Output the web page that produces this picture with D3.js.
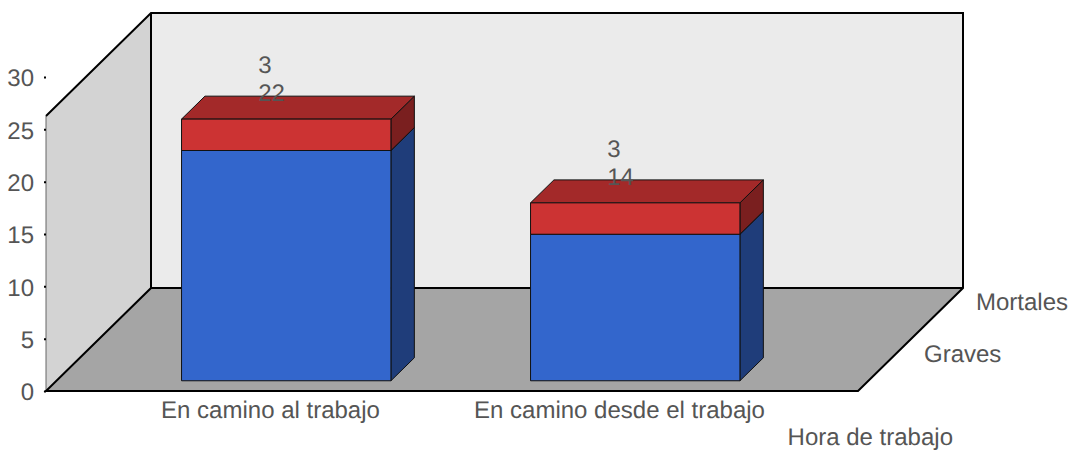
<!DOCTYPE html>
<html>
<head>
<meta charset="utf-8">
<script src="https://cdn.jsdelivr.net/npm/d3@7"></script>
<style>
  html, body { margin: 0; padding: 0; background: #fff; }
  text { font-family: "Liberation Sans", Arial, sans-serif; font-size: 24px; fill: #555; text-rendering: geometricPrecision; }
</style>
</head>
<body>
<div id="chart"></div>
<script>
(function() {

  var categories = ['En camino al trabajo', 'En camino desde el trabajo'];
  var graves = [22, 14];
  var mortales = [3, 3];
  var seriesNames = ['Graves', 'Mortales'];
  var yTicks = [0, 5, 10, 15, 20, 25, 30];
  var xTitle = 'Hora de trabajo';

  var width = 1070, height = 450;

  // room corners
  var left = 46, right = 858, floorY = 391, roomTop = 116;
  var depthX = 105, depthY = 103;

  var svg = d3.select('#chart').append('svg')
    .attr('width', width)
    .attr('height', height)
    .style('display', 'block');

  var y = d3.scaleLinear().domain([0, 30]).range([floorY, 77]);

  var x = d3.scaleBand()
    .domain(categories)
    .range([100.5, 798.5])
    .paddingInner(0.4)
    .paddingOuter(0.2);

  // depth 0 = front edge of the floor, 1 = back wall
  var dx = d3.scaleLinear().domain([0, 1]).range([0, depthX]);
  var dy = d3.scaleLinear().domain([0, 1]).range([0, -depthY]);

  var rows = categories.map(function(c, i) {
    return { category: c, Graves: graves[i], Mortales: mortales[i] };
  });
  var stacked = d3.stack().keys(seriesNames)(rows);

  var colors = {
    Graves: { front: '#3366cc', side: '#1f3d7a', top: '#29519f' },
    Mortales: { front: '#cc3333', side: '#7a1f1f', top: '#a32929' }
  };

  var line = d3.line();

  drawRoom();
  drawYAxis();
  drawBars();
  drawLabels();

  function drawRoom() {
    var room = svg.append('g');
    var backL = left + dx(1), backR = right + dx(1);
    var backBottom = floorY + dy(1), backTop = roomTop + dy(1);

    room.append('path')
      .attr('d', line([[backL, backTop], [backR, backTop], [backR, backBottom], [backL, backBottom]]) + 'Z')
      .attr('fill', '#ebebeb');
    room.append('path')
      .attr('d', line([[left, roomTop], [backL, backTop], [backL, backBottom], [left, floorY]]) + 'Z')
      .attr('fill', '#d3d3d3');
    room.append('path')
      .attr('d', line([[left, floorY], [backL, backBottom], [backR, backBottom], [right, floorY]]) + 'Z')
      .attr('fill', '#a5a5a5');

    room.append('line')
      .attr('x1', left).attr('y1', roomTop)
      .attr('x2', left).attr('y2', floorY)
      .attr('stroke', '#666').attr('stroke-width', 1);

    // black outline of the walls and floor
    var edges = [
      [[left, roomTop], [backL, backTop], [backR, backTop], [backR, backBottom], [right, floorY], [left, floorY], [backL, backBottom], [backL, backTop]],
      [[backL, backBottom], [backR, backBottom]]
    ];
    room.selectAll('path.edge')
      .data(edges)
      .enter().append('path')
      .attr('class', 'edge')
      .attr('d', function(d) { return line(d); })
      .attr('fill', 'none')
      .attr('stroke', '#000')
      .attr('stroke-width', 2);
  }

  function drawYAxis() {
    var axis = d3.axisLeft(y)
      .tickValues(yTicks)
      .tickSize(2)
      .tickPadding(10);
    var g = svg.append('g')
      .attr('transform', 'translate(' + left + ',0)')
      .call(axis);
    g.select('.domain').remove();
    g.selectAll('.tick line').attr('stroke', '#000').attr('stroke-width', 2);
    g.selectAll('text')
      .style('font-family', '"Liberation Sans", Arial, sans-serif')
      .style('font-size', '24px')
      .attr('fill', '#555')
      .attr('dy', '0.37em');
  }

  function drawBars() {
    var zFront = 0.107, zBack = 0.33;
    var lift = 0.8;

    stacked.forEach(function(s) {
      var c = colors[s.key];
      var g = svg.append('g');
      s.forEach(function(d) {
        var x0 = x(d.data.category) + dx(zFront);
        var x1 = x0 + x.bandwidth();
        var yBottom = y(d[0]) + dy(zFront) + lift;
        var yTop = y(d[1]) + dy(zFront) + lift;
        var ox = dx(zBack) - dx(zFront);
        var oy = dy(zBack) - dy(zFront);

        addFace(g, [[x1, yBottom], [x1 + ox, yBottom + oy], [x1 + ox, yTop + oy], [x1, yTop]], c.side);
        addFace(g, [[x0, yTop], [x0 + ox, yTop + oy], [x1 + ox, yTop + oy], [x1, yTop]], c.top);
        addFace(g, [[x0, yBottom], [x1, yBottom], [x1, yTop], [x0, yTop]], c.front);
      });
    });
  }

  function addFace(g, pts, fill) {
    g.append('path')
      .attr('d', line(pts) + 'Z')
      .attr('fill', fill)
      .attr('stroke', '#111')
      .attr('stroke-width', 1)
      .attr('stroke-linejoin', 'round');
  }

  function drawLabels() {
    var labels = svg.append('g');

    // value labels sit above each stack, left aligned
    categories.forEach(function(c, i) {
      var barX = x(c) + x.bandwidth() / 2 + dx(0.107) - 28;
      var topY = y(graves[i] + mortales[i]) + dy(0.107);
      labels.append('text').attr('x', barX).attr('y', topY - 45).text(mortales[i]);
      labels.append('text').attr('x', barX).attr('y', topY - 17).text(graves[i]);

      labels.append('text')
        .attr('x', x(c) + x.bandwidth() / 2 - 4.5)
        .attr('y', 418)
        .attr('text-anchor', 'middle')
        .text(c);
    });

    labels.selectAll('text.series')
      .data(seriesNames)
      .enter().append('text')
      .attr('class', 'series')
      .attr('x', function(d, i) { return 924 + i * 52; })
      .attr('y', function(d, i) { return 362 - i * 52; })
      .text(function(d) { return d; });

    labels.append('text')
      .attr('x', 953)
      .attr('y', 444.5)
      .attr('text-anchor', 'end')
      .text(xTitle);
  }
})();
</script>
</body>
</html>
